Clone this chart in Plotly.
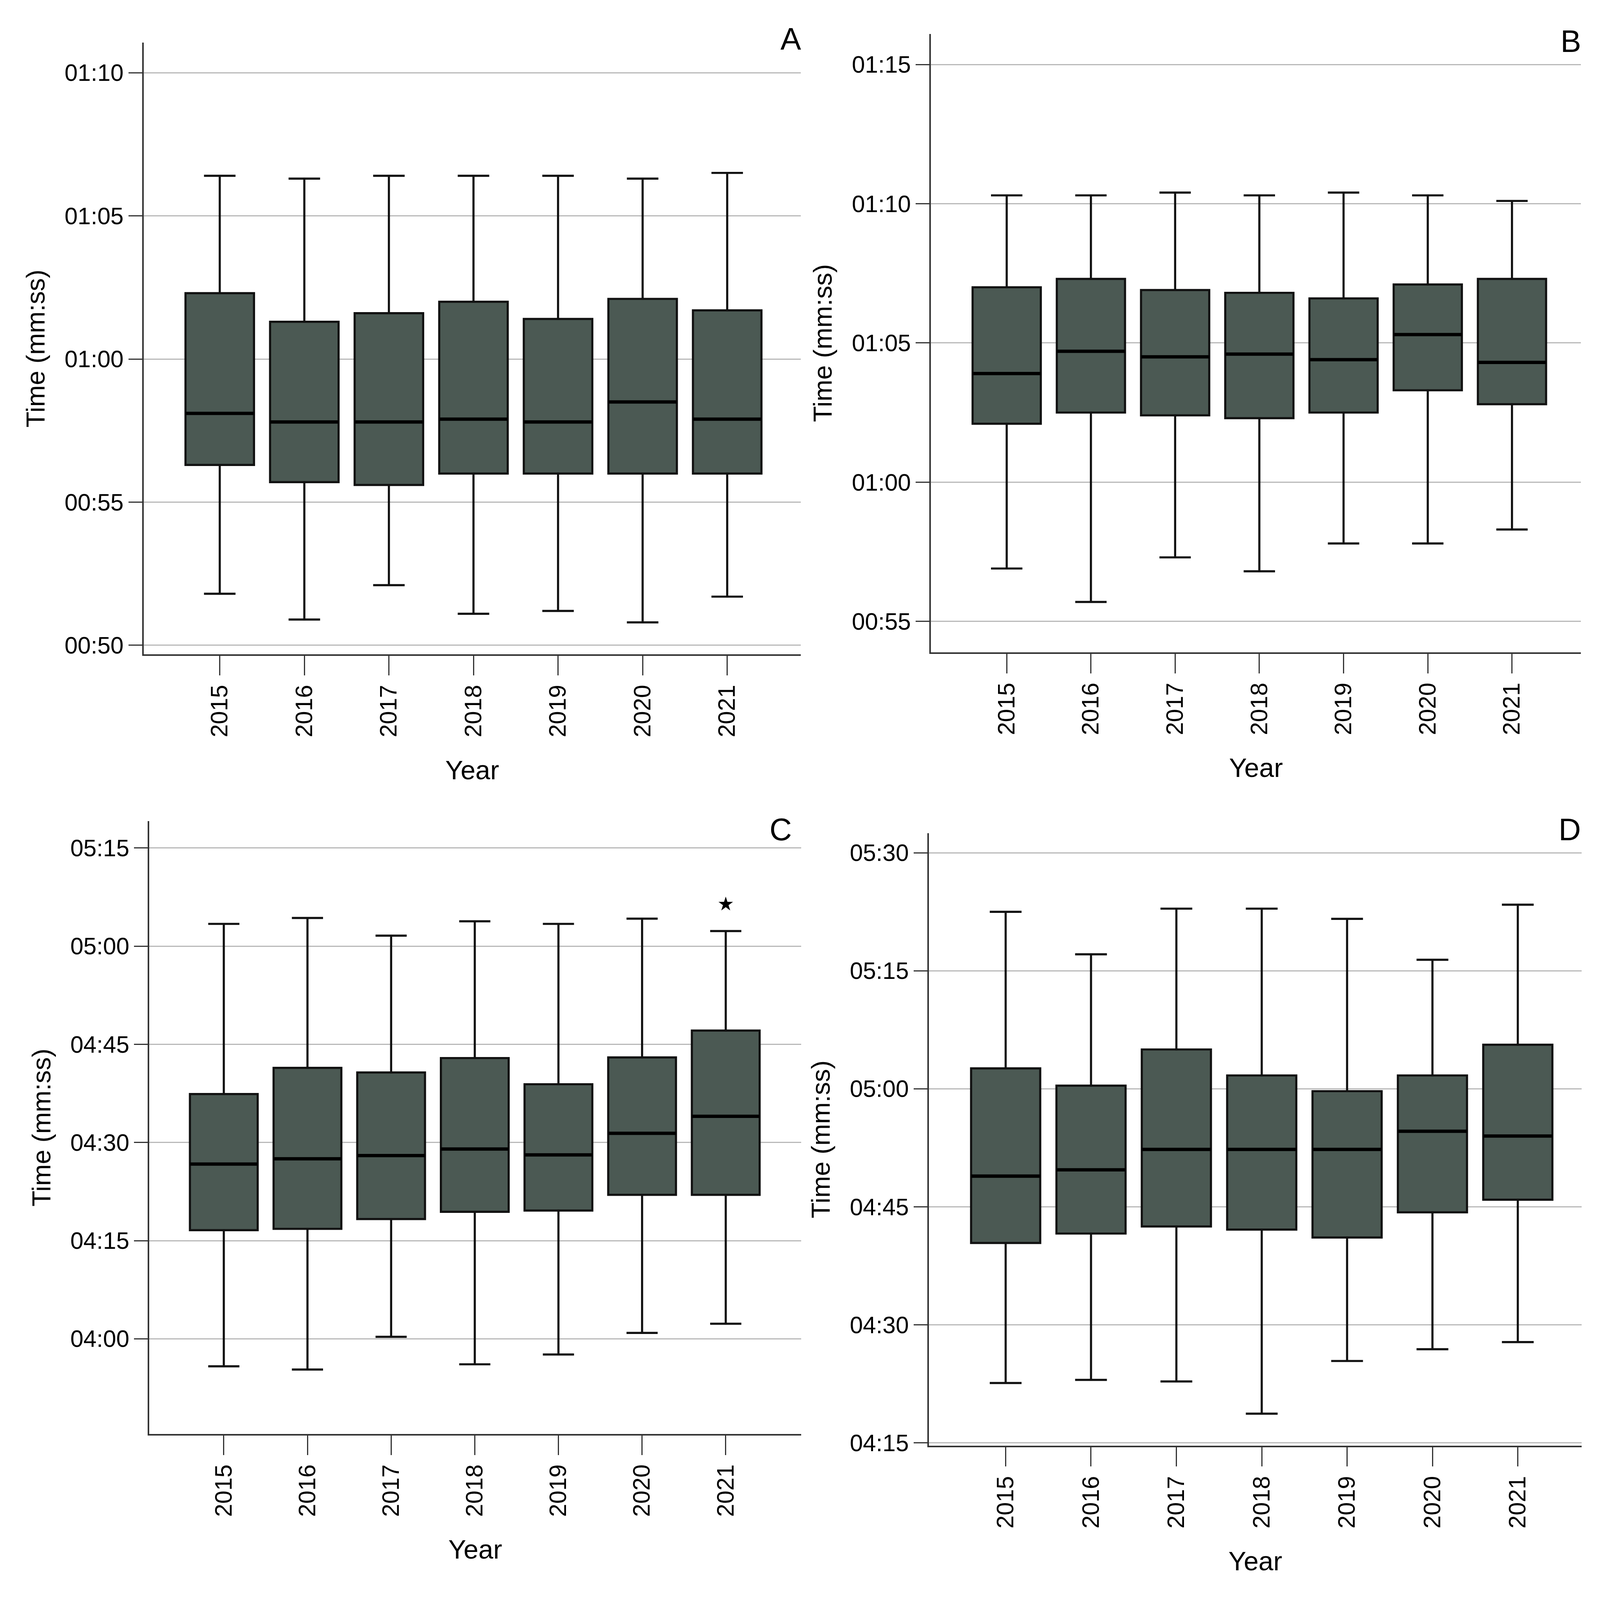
import json
import plotly.graph_objects as go

years = ["2015", "2016", "2017", "2018", "2019", "2020", "2021"]

# Panel A (seconds)
a_lower = [51.8, 50.9, 52.1, 51.1, 51.2, 50.8, 51.7]
a_q1 = [56.3, 55.7, 55.6, 56.0, 56.0, 56.0, 56.0]
a_median = [58.1, 57.8, 57.8, 57.9, 57.8, 58.5, 57.9]
a_q3 = [62.3, 61.3, 61.6, 62.0, 61.4, 62.1, 61.7]
a_upper = [66.4, 66.3, 66.4, 66.4, 66.4, 66.3, 66.5]
a_ticks = ["00:50", "00:55", "01:00", "01:05", "01:10"]

# Panel B (seconds)
b_lower = [56.9, 55.7, 57.3, 56.8, 57.8, 57.8, 58.3]
b_q1 = [62.1, 62.5, 62.4, 62.3, 62.5, 63.3, 62.8]
b_median = [63.9, 64.7, 64.5, 64.6, 64.4, 65.3, 64.3]
b_q3 = [67.0, 67.3, 66.9, 66.8, 66.6, 67.1, 67.3]
b_upper = [70.3, 70.3, 70.4, 70.3, 70.4, 70.3, 70.1]
b_ticks = ["00:55", "01:00", "01:05", "01:10", "01:15"]

# Panel C (seconds)
c_lower = [235.8, 235.3, 240.3, 236.1, 237.6, 240.9, 242.3]
c_q1 = [256.6, 256.8, 258.3, 259.4, 259.6, 262.0, 262.0]
c_median = [266.7, 267.5, 268.0, 269.0, 268.1, 271.4, 274.0]
c_q3 = [277.4, 281.4, 280.7, 282.9, 278.9, 283.0, 287.1]
c_upper = [303.4, 304.3, 301.6, 303.8, 303.4, 304.2, 302.3]
c_outlier_year = ["2021"]
c_outlier_value = [306.4]
c_ticks = ["04:00", "04:15", "04:30", "04:45", "05:00", "05:15"]

# Panel D (seconds)
d_lower = [262.6, 263.0, 262.8, 258.7, 265.4, 266.9, 267.8]
d_q1 = [280.4, 281.6, 282.5, 282.1, 281.1, 284.3, 285.9]
d_median = [288.9, 289.7, 292.3, 292.3, 292.3, 294.6, 294.0]
d_q3 = [302.6, 300.4, 305.0, 301.7, 299.7, 301.7, 305.6]
d_upper = [322.5, 317.1, 322.9, 322.9, 321.6, 316.4, 323.4]
d_ticks = ["04:15", "04:30", "04:45", "05:00", "05:15", "05:30"]

panel_labels = ["A", "B", "C", "D"]


def to_sec(t):
    m, s = t.split(":")
    return int(m) * 60 + int(s)


W, H = 6160, 4540
FONT = "Liberation Sans, Arial, sans-serif"
BOX_FILL = "rgb(75,89,83)"
LINE = "#111111"

panels = [
    dict(lo=a_lower, q1=a_q1, med=a_median, q3=a_q3, hi=a_upper, ticks=a_ticks,
         xd=[553, 3083], yd=[121, 1857], yr=[49.68, 71.05], xr=[-0.9, 6.87],
         lab=(3044, 110)),
    dict(lo=b_lower, q1=b_q1, med=b_median, q3=b_q3, hi=b_upper, ticks=b_ticks,
         xd=[3584, 6087], yd=[96, 1851], yr=[53.89, 76.1], xr=[-0.9, 6.82],
         lab=(6048, 117)),
    dict(lo=c_lower, q1=c_q1, med=c_median, q3=c_q3, hi=c_upper, ticks=c_ticks,
         xd=[575, 3084], yd=[2330, 4069], yr=[225.45, 319.1], xr=[-0.89, 6.9],
         lab=(3005, 2354)),
    dict(lo=d_lower, q1=d_q1, med=d_median, q3=d_q3, hi=d_upper, ticks=d_ticks,
         xd=[3576, 6090], yd=[2364, 4102], yr=[254.64, 332.5], xr=[-0.9, 6.75],
         lab=(6044, 2354)),
]

# sizes in reference pixels; rescaled in the browser to the actual window
TICKFONT, TITLEFONT_X, TITLEFONT_Y, LABELFONT = 78, 88, 86, 102
BOX_LW, MED_LW, STAR = 7, 11, 36

fig = go.Figure()
layout = dict(
    width=W, height=H,
    margin=dict(l=0, r=0, t=0, b=0),
    paper_bgcolor="white", plot_bgcolor="white",
    showlegend=False,
    font=dict(family=FONT, color="black"),
)
annotations = []
scaled = {}        # layout path -> [base value, kind]
trace_scaled = []  # [trace index, attr, base value, kind]

for i, p in enumerate(panels):
    n = i + 1
    xa = "x" if n == 1 else f"x{n}"
    ya = "y" if n == 1 else f"y{n}"
    fig.add_trace(go.Box(
        x=years, q1=p["q1"], median=p["med"], q3=p["q3"],
        lowerfence=p["lo"], upperfence=p["hi"],
        boxpoints=False, width=0.81, whiskerwidth=0.46,
        fillcolor=BOX_FILL, line=dict(color=LINE, width=BOX_LW),
        xaxis=xa, yaxis=ya, hoverinfo="skip",
    ))
    trace_scaled.append([len(fig.data) - 1, "line.width", BOX_LW, "sf"])
    # thick median lines
    fig.add_trace(go.Box(
        x=years, q1=p["med"], median=p["med"], q3=p["med"],
        lowerfence=p["med"], upperfence=p["med"],
        boxpoints=False, width=0.81, whiskerwidth=0,
        fillcolor="rgba(0,0,0,0)", line=dict(color="black", width=MED_LW),
        xaxis=xa, yaxis=ya, hoverinfo="skip",
    ))
    trace_scaled.append([len(fig.data) - 1, "line.width", MED_LW, "sf"])
    if n == 3:
        fig.add_trace(go.Scatter(
            x=c_outlier_year, y=c_outlier_value, mode="markers",
            marker=dict(symbol="star", size=STAR, color="black"),
            xaxis=xa, yaxis=ya, hoverinfo="skip",
        ))
        trace_scaled.append([len(fig.data) - 1, "marker.size", STAR, "sf"])

    xkey = "xaxis" if n == 1 else f"xaxis{n}"
    ykey = "yaxis" if n == 1 else f"yaxis{n}"
    layout[xkey] = dict(
        domain=[p["xd"][0] / W, p["xd"][1] / W],
        anchor=ya, type="category", range=p["xr"],
        showline=True, linecolor="#333333", linewidth=5,
        showgrid=False, zeroline=False,
        ticks="outside", ticklen=55, tickwidth=4, tickcolor="#333333",
        tickangle=-90, tickfont=dict(size=TICKFONT, family=FONT, color="black"),
        ticklabelstandoff=2,
        title=dict(text="Year", font=dict(size=TITLEFONT_X, family=FONT, color="black"), standoff=68),
        automargin=False,
    )
    layout[ykey] = dict(
        domain=[1 - p["yd"][1] / H, 1 - p["yd"][0] / H],
        anchor=xa, range=p["yr"],
        showline=True, linecolor="#333333", linewidth=5,
        showgrid=True, gridcolor="#b9b9b9", gridwidth=4, zeroline=False,
        tickmode="array", tickvals=[to_sec(t) for t in p["ticks"]], ticktext=p["ticks"],
        ticks="outside", ticklen=53, tickwidth=4, tickcolor="#333333",
        tickfont=dict(size=TICKFONT, family=FONT, color="black"),
        ticklabelstandoff=18,
        title=dict(text="Time (mm:ss)", font=dict(size=TITLEFONT_Y, family=FONT, color="black"), standoff=45),
        automargin=False,
    )
    for key, kd in ((xkey, "sy"), (ykey, "sx")):
        ax = layout[key]
        scaled[f"{key}.tickfont.size"] = [ax["tickfont"]["size"], "sf"]
        scaled[f"{key}.title.font.size"] = [ax["title"]["font"]["size"], "sf"]
        scaled[f"{key}.title.standoff"] = [ax["title"]["standoff"], kd]
        scaled[f"{key}.ticklen"] = [ax["ticklen"], kd]
        scaled[f"{key}.ticklabelstandoff"] = [ax["ticklabelstandoff"], kd]
        scaled[f"{key}.tickwidth"] = [ax["tickwidth"], "sf"]
        scaled[f"{key}.linewidth"] = [ax["linewidth"], "sf"]
        if "gridwidth" in ax:
            scaled[f"{key}.gridwidth"] = [ax["gridwidth"], "sf"]
    annotations.append(dict(
        text=panel_labels[i], xref="paper", yref="paper",
        x=p["lab"][0] / W, y=1 - p["lab"][1] / H,
        xanchor="center", yanchor="middle", showarrow=False,
        font=dict(size=LABELFONT, family=FONT, color="black"),
    ))
    scaled[f"annotations[{i}].font.size"] = [LABELFONT, "sf"]

layout["annotations"] = annotations
fig.update_layout(**layout)

post = """
(function(){
var gd = document.getElementById('{plot_id}');
document.documentElement.style.overflow = 'hidden';
document.body.style.margin = '0';
document.body.style.overflow = 'hidden';
var W = window.innerWidth, H = window.innerHeight;
var sx = W / %d, sy = H / %d, sf = Math.sqrt(sx * sy);
var k = {sx: sx, sy: sy, sf: sf};
var base = %s;
var tr = %s;
var upd = {width: W, height: H};
for (var p in base) { upd[p] = base[p][0] * k[base[p][1]]; }
gd.style.width = W + 'px';
gd.style.height = H + 'px';
var chain = Promise.resolve();
tr.forEach(function(t){
  chain = chain.then(function(){ var u = {}; u[t[1]] = t[2] * k[t[3]]; return Plotly.restyle(gd, u, [t[0]]); });
});
chain.then(function(){ return Plotly.relayout(gd, upd); });
})();
""" % (W, H, json.dumps(scaled), json.dumps(trace_scaled))

fig.write_html("out.html", post_script=post, config={"displayModeBar": False})
